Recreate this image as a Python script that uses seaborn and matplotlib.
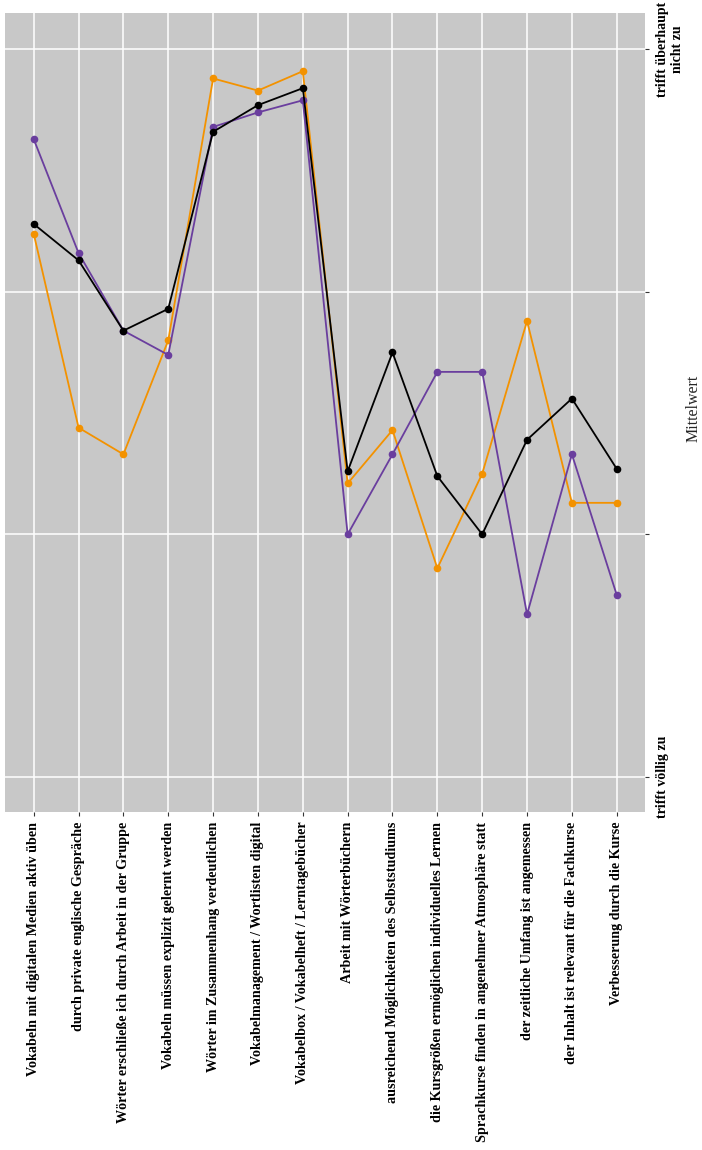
import matplotlib
matplotlib.use("Agg")
import matplotlib.pyplot as plt
import seaborn as sns
import pandas as pd

# Items (x axis, in display order)
kategorien = [
    "Vokabeln mit digitalen Medien aktiv üben",
    "durch private englische Gespräche",
    "Wörter erschließe ich durch Arbeit in der Gruppe",
    "Vokabeln müssen explizit gelernt werden",
    "Wörter im Zusammenhang verdeutlichen",
    "Vokabelmanagement / Wortlisten digital",
    "Vokabelbox / Vokabelheft / Lerntagebücher",
    "Arbeit mit Wörterbüchern",
    "ausreichend Möglichkeiten des Selbststudiums",
    "die Kursgrößen ermöglichen individuelles Lernen",
    "Sprachkurse finden in angenehmer Atmosphäre statt",
    "der zeitliche Umfang ist angemessen",
    "der Inhalt ist relevant für die Fachkurse",
    "Verbesserung durch die Kurse",
]

# Mean values per group (1 = trifft völlig zu ... 4 = trifft überhaupt nicht zu)
gruppe_orange = [3.24, 2.44, 2.33, 2.80, 3.88, 3.83, 3.91, 2.21, 2.43, 1.86, 2.25, 2.88, 2.13, 2.13]
gruppe_lila = [3.63, 3.16, 2.84, 2.74, 3.68, 3.74, 3.79, 2.00, 2.33, 2.67, 2.67, 1.67, 2.33, 1.75]
gesamt = [3.28, 3.13, 2.84, 2.93, 3.66, 3.77, 3.84, 2.26, 2.75, 2.24, 2.00, 2.39, 2.56, 2.27]

skala_werte = [1, 2, 3, 4]
skala_texte = ["trifft völlig zu", "", "", "trifft überhaupt\nnicht zu"]

farben = {"orange": "#F39200", "lila": "#6A3E9E", "gesamt": "#000000"}

rows = []
for name, werte in [("orange", gruppe_orange), ("lila", gruppe_lila), ("gesamt", gesamt)]:
    for i, v in enumerate(werte):
        rows.append({"pos": i, "wert": v, "gruppe": name})
df = pd.DataFrame(rows)

sns.set_theme(style="darkgrid")
plt.rcParams["font.family"] = ["Liberation Serif", "DejaVu Serif"]

fig = plt.figure(figsize=(7.02, 11.5), dpi=100)
ax = fig.add_axes([5 / 702, 1 - 812 / 1150, 640 / 702, 799 / 1150])
ax.set_facecolor("#C8C8C8")

sns.lineplot(
    data=df, x="pos", y="wert", hue="gruppe", palette=farben,
    hue_order=["orange", "lila", "gesamt"],
    marker="o", markersize=5.5, markeredgewidth=0, linewidth=1.3,
    legend=False, ax=ax, sort=False,
)

ax.set_xlim(-0.64, len(kategorien) - 1 + 0.63)
ax.set_ylim(0.855, 4.15)

ax.grid(True, color="white", linewidth=1.1)
for s in ax.spines.values():
    s.set_visible(False)

ax.set_xticks(range(len(kategorien)))
ax.set_xticklabels(kategorien, rotation=90, ha="center", va="top",
                   fontsize=10.2, fontweight="bold", color="black")
ax.set_xlabel("")

ax.yaxis.tick_right()
ax.yaxis.set_label_position("right")
ax.set_yticks(skala_werte)
ax.set_yticklabels(skala_texte, rotation=90, va="center", ha="left",
                   multialignment="center", fontsize=10, fontweight="bold",
                   color="black")
ax.set_ylabel("Mittelwert", rotation=90, fontsize=11.5, va="center",
              ha="center")
ax.yaxis.set_label_coords(1.0766, 0.505)

ax.tick_params(axis="both", which="major", length=3, width=0.8,
               color="#333333", bottom=True, right=True, left=False)
ax.tick_params(axis="x", pad=4)
ax.tick_params(axis="y", pad=5)

fig.savefig("out.png", dpi=100)
